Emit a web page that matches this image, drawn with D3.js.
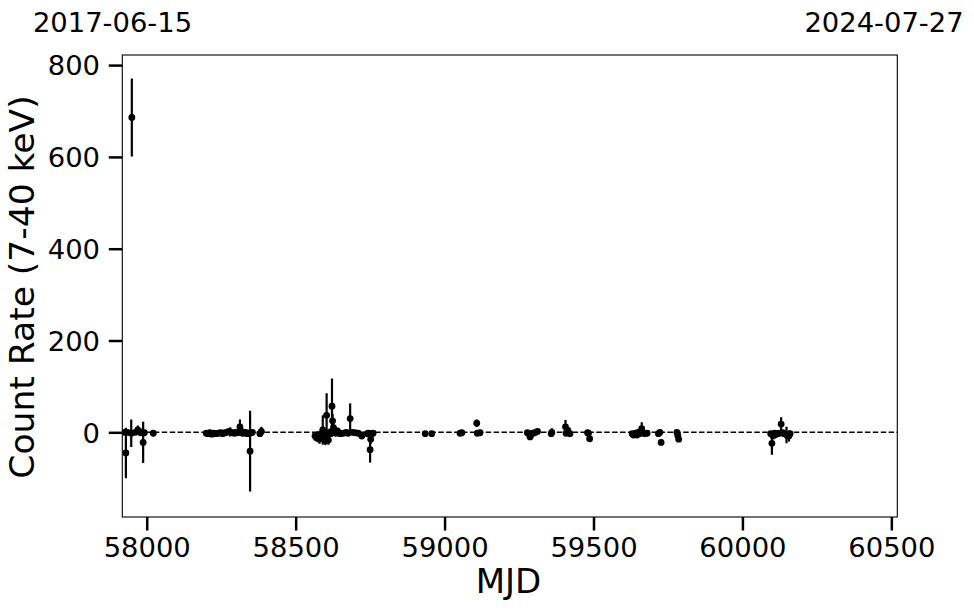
<!DOCTYPE html>
<html>
<head>
<meta charset="utf-8">
<script src="https://cdn.jsdelivr.net/npm/d3@7"></script>
<style>
  html, body { margin: 0; padding: 0; background: #fff; }
  svg { display: block; font-family: "DejaVu Sans", sans-serif; }
</style>
</head>
<body>
<svg id="chart" width="974" height="613"></svg>
<script>
// ---- data ----
const mjd = [
  57925, 57930, 57935, 57948, 57950, 57962, 57970, 57975, 57980, 57988, 57992, 58022,
  58200, 58206, 58212, 58218, 58225, 58232, 58240, 58248, 58255, 58262, 58270, 58276,
  58280, 58288, 58295, 58300, 58306, 58313, 58318, 58322, 58327, 58332, 58337, 58342,
  58347, 58350, 58355, 58380, 58385,
  58565, 58570, 58575, 58580, 58585, 58591, 58595, 58600, 58604, 58606, 58610, 58614,
  58618, 58622, 58624, 58627, 58630, 58635, 58640, 58645, 58650, 58660, 58670, 58676,
  58683, 58690, 58700, 58710, 58722, 58740, 58745, 58750, 58752, 58755, 58760,
  58935, 58957,
  59052, 59058, 59108, 59110, 59119,
  59278, 59283, 59287, 59290, 59296, 59303, 59312, 59358, 59360, 59406, 59408, 59414, 59421,
  59480, 59483, 59487,
  59630, 59634, 59638, 59642, 59646, 59650, 59654, 59658, 59662, 59666, 59672, 59680,
  59718, 59723, 59727, 59780, 59783, 59786,
  60095, 60099, 60103, 60108, 60112, 60118, 60124, 60130, 60135, 60140, 60148, 60156, 60160
];
const rate = [
  0, -45, 0, -2, 686, 0, 5, 2, -1, -22, -1, -2,
  -2, -3, -1, -4, -2, -3, -2, -1, -3, -1, 0, 2,
  1, -1, -2, 0, -1, 12, 2, -2, -1, 0, -3, -2,
  -41, -1, 0, -3, 2,
  -8, -12, -5, -15, -3, 5, -10, -18, 37, -5, -17, 0,
  -3, 57, 25, 10, 5, -2, 3, -1, -3, -2, 0, -2,
  30, 0, -1, -2, -8, -3, -2, -38, -15, -3, -2,
  -3, -3,
  -2, -1, 20, -2, -1,
  -1, -3, -10, -6, -2, -1, 2, -3, 0, 12, -2, 4, -3,
  -1, -2, -14,
  -3, -6, -4, -2, -6, 0, -3, 2, 8, -1, -3, -2,
  -3, 0, -22, 0, -7, -15,
  -3, -24, -8, -2, -5, -3, -2, 18, -1, -3, -6, -8, -3
];
const err = [
  5, 55, 6, 30, 85, 4, 10, 5, 4, 45, 5, 4,
  3, 3, 3, 4, 3, 4, 3, 4, 3, 5, 4, 6,
  10, 4, 5, 4, 4, 16, 5, 4, 6, 5, 4, 5,
  88, 6, 4, 5, 10,
  6, 8, 6, 10, 5, 32, 8, 10, 48, 6, 10, 8,
  6, 60, 15, 10, 8, 5, 6, 5, 4, 4, 4, 4,
  33, 4, 4, 4, 5, 4, 4, 28, 10, 5, 4,
  3, 3,
  3, 3, 8, 4, 3,
  3, 3, 4, 4, 3, 3, 3, 3, 9, 15, 4, 6, 4,
  3, 4, 5,
  4, 4, 4, 4, 5, 4, 4, 5, 14, 4, 4, 4,
  4, 4, 6, 3, 4, 4,
  5, 25, 6, 4, 5, 4, 4, 15, 5, 5, 18, 12, 5
];
const xTicks = [58000, 58500, 59000, 59500, 60000, 60500];
const yTicks = [0, 200, 400, 600, 800];
const xDomain = [57918, 60520];
const yDomain = [-184.5, 822];
const dateLabels = ["2017-06-15", "2024-07-27"];
const xLabel = "MJD";
const yLabel = "Count Rate (7-40 keV)";

// ---- layout ----
const L = 122.3, R = 897.3, T = 55, B = 517;
const svg = d3.select("#chart");
const x = d3.scaleLinear().domain(xDomain).range([L, R]);
const y = d3.scaleLinear().domain(yDomain).range([B, T]);

svg.append("defs").append("clipPath").attr("id", "clip")
  .append("rect").attr("x", L).attr("y", T).attr("width", R - L).attr("height", B - T);

const plot = svg.append("g").attr("clip-path", "url(#clip)");

// zero line
plot.append("line")
  .attr("x1", L).attr("x2", R)
  .attr("y1", y(0)).attr("y2", y(0))
  .attr("stroke", "#000").attr("stroke-width", 1.4)
  .attr("stroke-dasharray", "5.5,2.4");

const data = mjd.map((m, i) => ({ m, r: rate[i], e: err[i] }));

plot.selectAll("line.err").data(data).enter().append("line")
  .attr("class", "err")
  .attr("x1", d => x(d.m)).attr("x2", d => x(d.m))
  .attr("y1", d => y(d.r - d.e)).attr("y2", d => y(d.r + d.e))
  .attr("stroke", "#000").attr("stroke-width", 2.2);

plot.selectAll("circle").data(data).enter().append("circle")
  .attr("cx", d => x(d.m)).attr("cy", d => y(d.r))
  .attr("r", 3.4).attr("fill", "#000");

// axes
const xAxis = d3.axisBottom(x).tickValues(xTicks).tickFormat(d3.format("d"))
  .tickSize(13.5).tickPadding(6.7);
const gx = svg.append("g").attr("transform", `translate(0,${B})`).call(xAxis);
const yAxis = d3.axisLeft(y).tickValues(yTicks).tickFormat(d3.format("d"))
  .tickSize(13.5).tickPadding(8.8);
const gy = svg.append("g").attr("transform", `translate(${L},0)`).call(yAxis);

[gx, gy].forEach(g => {
  g.select(".domain").remove();
  g.selectAll(".tick line").attr("stroke", "#000").attr("stroke-width", 2.5);
  g.selectAll(".tick text").attr("fill", "#000")
    .style("font-family", "'DejaVu Sans', sans-serif").style("font-size", "27.4px");
});
gy.selectAll(".tick text").attr("dy", "0.36em");

// frame
svg.append("rect").attr("x", L).attr("y", T).attr("width", R - L).attr("height", B - T)
  .attr("fill", "none").attr("stroke", "#000").attr("stroke-width", 1.1);

// labels
svg.append("text").attr("x", 508.5).attr("y", 593.3)
  .attr("text-anchor", "middle").style("font-size", "34px").text(xLabel);
svg.append("text")
  .attr("transform", `translate(34,${287}) rotate(-90)`)
  .attr("text-anchor", "middle").style("font-size", "34.5px").text(yLabel);

// date labels on top
svg.append("text").attr("x", 112.5).attr("y", 31.5).attr("text-anchor", "middle")
  .style("font-size", "27.4px").text(dateLabels[0]);
svg.append("text").attr("x", 884).attr("y", 31.5).attr("text-anchor", "middle")
  .style("font-size", "27.4px").text(dateLabels[1]);
</script>
</body>
</html>
